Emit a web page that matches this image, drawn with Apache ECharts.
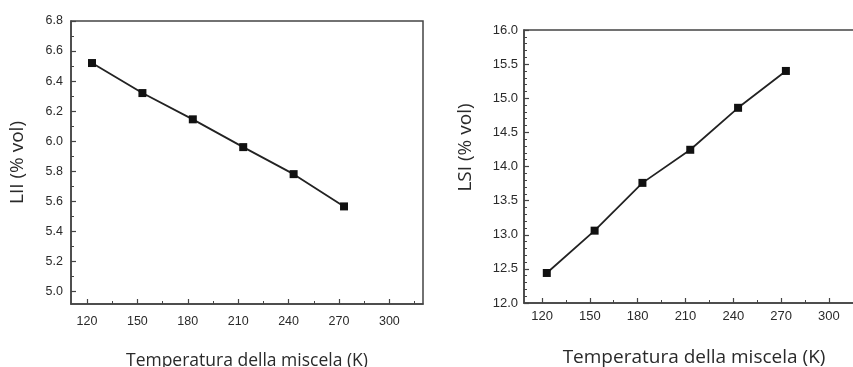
<!DOCTYPE html>
<html>
<head>
<meta charset="utf-8">
<script src="https://cdn.jsdelivr.net/npm/echarts@6/dist/echarts.min.js"></script>
<style>
  html, body { margin: 0; padding: 0; background: #fff; }
  #chart { width: 853px; height: 367px; }
</style>
</head>
<body>
<div id="chart"></div>
<script>
// data
const temps = [123, 153, 183, 213, 243, 273];
const lii = [6.52, 6.32, 6.145, 5.96, 5.78, 5.565];
const lsi = [12.44, 13.06, 13.76, 14.245, 14.86, 15.40];

const xTicks = [120, 150, 180, 210, 240, 270, 300];
const xMinor = [135, 165, 195, 225, 255, 285, 315];
const liiTicks = [5.0, 5.2, 5.4, 5.6, 5.8, 6.0, 6.2, 6.4, 6.6, 6.8];
const liiMinor = [5.1, 5.3, 5.5, 5.7, 5.9, 6.1, 6.3, 6.5, 6.7];
const lsiTicks = [12.0, 12.5, 13.0, 13.5, 14.0, 14.5, 15.0, 15.5, 16.0];
const lsiMinor = [12.1, 12.2, 12.3, 12.4, 12.6, 12.7, 12.8, 12.9, 13.1, 13.2, 13.3, 13.4,
  13.6, 13.7, 13.8, 13.9, 14.1, 14.2, 14.3, 14.4, 14.6, 14.7, 14.8, 14.9,
  15.1, 15.2, 15.3, 15.4, 15.6, 15.7, 15.8, 15.9];

const axisColor = '#444';
const textColor = '#2a2a2a';
const labelFont = 'Liberation Sans';
const titleFont = 'Open Sans';

const chart = echarts.init(document.getElementById('chart'));

// main axis with labels + long ticks
const mainAxis = (grid, min, max, ticks, digits, margin, size, extra) => ({
  type: 'value',
  gridIndex: grid,
  min, max,
  axisLine: { show: true, lineStyle: { color: axisColor, width: 1.5 } },
  axisTick: { show: true, inside: true, length: 5, customValues: ticks, lineStyle: { color: axisColor, width: 1.2 } },
  axisLabel: {
    customValues: ticks,
    margin,
    color: textColor,
    fontFamily: labelFont,
    fontSize: size,
    formatter: v => digits ? Number(v).toFixed(digits) : String(Math.round(v))
  },
  splitLine: { show: false },
  ...extra
});

// overlay axis carrying only the short minor ticks
const minorAxis = (grid, min, max, ticks, pos) => ({
  type: 'value',
  gridIndex: grid,
  position: pos,
  min, max,
  axisLine: { show: false },
  axisTick: { show: true, inside: true, length: 3, customValues: ticks, lineStyle: { color: axisColor, width: 1 } },
  axisLabel: { show: false },
  splitLine: { show: false }
});

const xTitle = 'Temperatura della miscela (K)';

const lineSeries = (grid, data) => ({
  type: 'line',
  xAxisIndex: grid * 2,
  yAxisIndex: grid * 2,
  data: temps.map((t, i) => [t, data[i]]),
  symbol: 'rect',
  symbolSize: 8,
  itemStyle: { color: '#111' },
  lineStyle: { color: '#222', width: 1.8 },
  silent: true
});

chart.setOption({
  animation: false,
  grid: [
    { left: 71, top: 21, width: 352, height: 283, outerBoundsMode: 'none', show: true, borderColor: axisColor, borderWidth: 1.5 },
    { left: 524, top: 30, width: 340, height: 273, outerBoundsMode: 'none', show: true, borderColor: axisColor, borderWidth: 1.5 }
  ],
  xAxis: [
    mainAxis(0, 110.5, 320, xTicks, 0, 11, 12.5, {
      name: xTitle, nameLocation: 'middle', nameGap: 48,
      nameTextStyle: { fontFamily: titleFont, fontSize: 17.5, color: textColor }
    }),
    minorAxis(0, 110.5, 320, xMinor, 'bottom'),
    mainAxis(1, 108.7, 322, xTicks, 0, 7, 13, {
      name: xTitle, nameLocation: 'middle', nameGap: 45,
      nameTextStyle: { fontFamily: titleFont, fontSize: 19, color: textColor }
    }),
    minorAxis(1, 108.7, 322, xMinor, 'bottom')
  ],
  yAxis: [
    mainAxis(0, 4.915, 6.8, liiTicks, 1, 8, 12.5, {
      name: 'LII (% vol)', nameLocation: 'middle', nameGap: 44,
      nameTextStyle: { fontFamily: titleFont, fontSize: 19, color: textColor }
    }),
    minorAxis(0, 4.915, 6.8, liiMinor, 'left'),
    mainAxis(1, 12, 16, lsiTicks, 1, 6, 13, {
      name: 'LSI (% vol)', nameLocation: 'middle', nameGap: 49,
      nameTextStyle: { fontFamily: titleFont, fontSize: 19, color: textColor, padding: [0, 0, 0, 38] }
    }),
    minorAxis(1, 12, 16, lsiMinor, 'left')
  ],
  series: [
    lineSeries(0, lii),
    lineSeries(1, lsi)
  ]
});
</script>
</body>
</html>
